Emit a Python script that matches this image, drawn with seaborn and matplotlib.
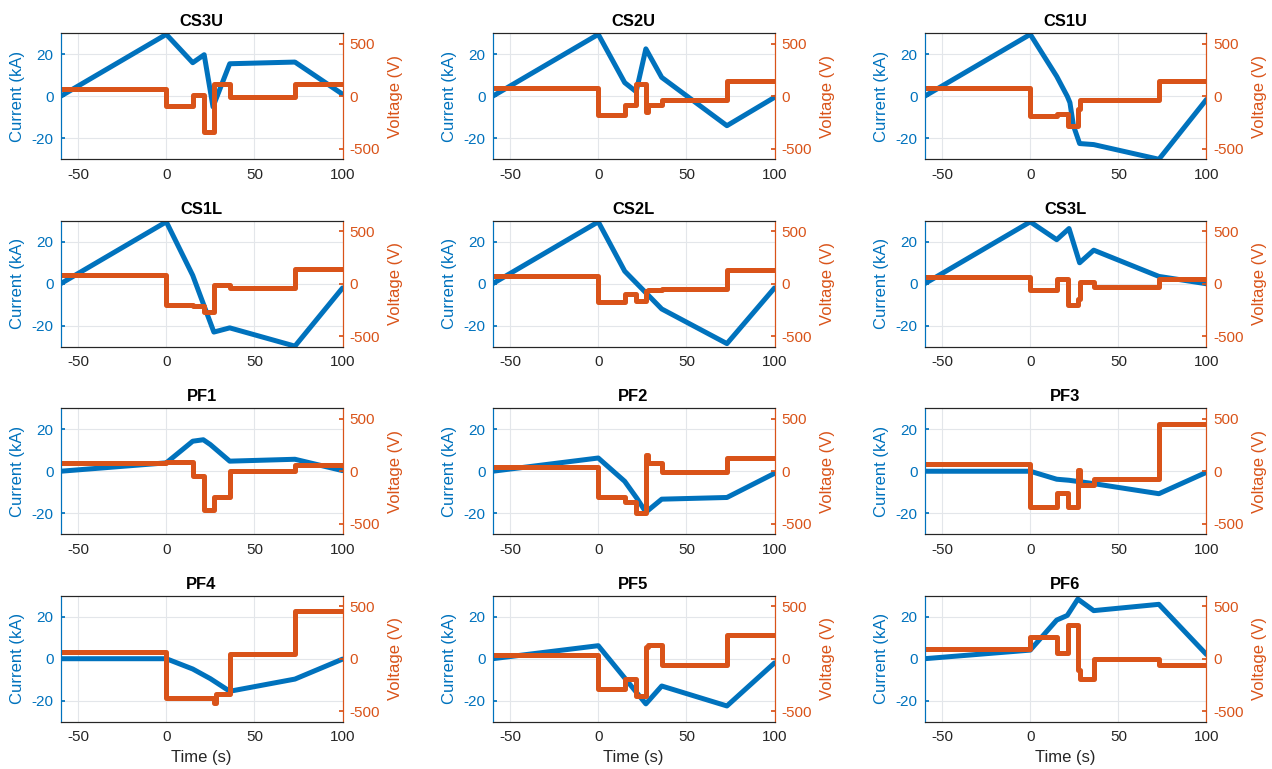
import matplotlib
matplotlib.use("Agg")
import matplotlib.pyplot as plt
import seaborn as sns

sns.set_theme(style="white")
plt.rcParams["font.family"] = ["Liberation Sans", "DejaVu Sans"]
plt.rcParams["axes.unicode_minus"] = False

BLUE = "#0072BD"
ORANGE = "#D95319"
DARK = "#262626"

coil_names = ["CS3U", "CS2U", "CS1U", "CS1L", "CS2L", "CS3L",
              "PF1", "PF2", "PF3", "PF4", "PF5", "PF6"]

# voltage is a step signal; one value per interval between these edges
v_edges = [-60, 0, 15, 21.5, 27, 28, 36, 73, 100]

# current waveforms (time s, current kA)
cs3u_t = [-60, 0, 15, 21.5, 26.5, 36, 73, 100]
cs3u_i = [0, 29.5, 16, 19.8, -5, 15.5, 16.3, 1]
cs2u_t = [-60, 0, 15, 21.5, 27, 36, 73, 100]
cs2u_i = [0, 29.5, 6.5, 2.2, 22.6, 9, -14, -0.5]
cs1u_t = [-60, 0, 15, 21, 22.5, 24.5, 28, 36, 73, 100]
cs1u_i = [0, 29.5, 9.5, 0, -3, -14, -22.5, -23, -30, -1.5]
cs1l_t = [-60, 0, 15, 27, 36, 73, 100]
cs1l_i = [0, 29.5, 4, -23, -21, -29.7, -2]
cs2l_t = [-60, 0, 15, 36, 73, 100]
cs2l_i = [0, 29.5, 6, -12, -28.5, -2]
cs3l_t = [-60, 0, 15, 22, 28, 36, 73, 100]
cs3l_i = [0, 29.5, 21, 26.3, 10, 16, 3.5, 0]
pf1_t = [-60, 0, 15, 21, 25, 36, 73, 100]
pf1_i = [0, 4, 14.3, 15, 12.7, 4.8, 5.7, 0.3]
pf2_t = [-60, 0, 15, 22, 27, 36, 73, 100]
pf2_i = [0, 6.3, -4.8, -13, -19.5, -13.3, -12.5, -1]
pf3_t = [-60, 0, 15, 22, 36, 73, 100]
pf3_i = [0, 0, -3.8, -4.3, -5.9, -10.7, -0.5]
pf4_t = [-60, 0, 15, 25, 36, 73, 100]
pf4_i = [0, 0, -4.9, -9.5, -15.5, -9.7, -0.2]
pf5_t = [-60, 0, 27, 36, 73, 100]
pf5_i = [0, 6.2, -21.5, -13, -22.5, -2]
pf6_t = [-60, 0, 15, 21, 27, 36, 73, 100]
pf6_i = [0, 4.1, 18.4, 20.6, 28.4, 22.9, 25.9, 2]

# voltage steps (V)
cs3u_v = [73, -95, 15, -340, 120, 120, -10, 120]
cs2u_v = [75, -175, -80, 120, -150, -85, -40, 148]
cs1u_v = [77, -185, -165, -285, -125, -32, -35, 148]
cs1l_v = [79, -200, -215, -265, -10, -10, -42, 145]
cs2l_v = [78, -172, -100, -165, -70, -63, -47, 127]
cs3l_v = [66, -57, 41, -202, -148, 16, -32, 41]
pf1_v = [82, 85, -45, -370, -245, -245, 0, 57]
pf2_v = [41, -243, -291, -402, 152, 79, -6, 127]
pf3_v = [66, -339, -209, -339, 10, -133, -76, 452]
pf4_v = [63, -378, -372, -372, -420, -340, 44, 450]
pf5_v = [35, -292, -190, -355, 110, 130, -63, 225]
pf6_v = [92, 209, 51, 320, -108, -197, 0, -60]

coils = [
    (cs3u_t, cs3u_i, cs3u_v), (cs2u_t, cs2u_i, cs2u_v), (cs1u_t, cs1u_i, cs1u_v),
    (cs1l_t, cs1l_i, cs1l_v), (cs2l_t, cs2l_i, cs2l_v), (cs3l_t, cs3l_i, cs3l_v),
    (pf1_t, pf1_i, pf1_v), (pf2_t, pf2_i, pf2_v), (pf3_t, pf3_i, pf3_v),
    (pf4_t, pf4_i, pf4_v), (pf5_t, pf5_i, pf5_v), (pf6_t, pf6_i, pf6_v),
]

fig, axes = plt.subplots(4, 3, figsize=(12.72, 7.69), dpi=100)
fig.subplots_adjust(left=0.0476, right=0.9485, bottom=0.0615, top=0.9567,
                    wspace=0.532, hspace=0.488)

for k, (ax, name, (t, cur, volt)) in enumerate(zip(axes.flat, coil_names, coils)):
    ax2 = ax.twinx()

    sns.lineplot(x=t, y=cur, ax=ax, color=BLUE, lw=3.6, sort=False)
    sns.lineplot(x=v_edges, y=volt + [volt[-1]], ax=ax2, color=ORANGE, lw=3.6,
                 drawstyle="steps-post", sort=False)

    ax.set_xlim(-60, 100)
    ax.set_ylim(-30, 30)
    ax2.set_ylim(-600, 600)
    ax.set_xticks([-50, 0, 50, 100])
    ax.set_yticks([-20, 0, 20])
    ax2.set_yticks([-500, 0, 500])
    ax.grid(True, color="#e3e6ea", lw=0.8)
    ax.set_axisbelow(True)

    ax.set_title(name, fontsize=11.9, fontweight="bold", color="black", pad=5)
    ax.set_ylabel("Current (kA)", color=BLUE, fontsize=12, labelpad=5)
    ax2.set_ylabel("Voltage (V)", color=ORANGE, fontsize=12, labelpad=6)
    ax.set_xlabel("Time (s)" if k >= 9 else "", color=DARK, fontsize=12, labelpad=4)

    ax.tick_params(axis="x", colors=DARK, direction="in", length=3, labelsize=11, pad=6)
    ax.tick_params(axis="y", colors=BLUE, direction="in", length=3, labelsize=11, pad=5)
    ax2.tick_params(axis="y", colors=ORANGE, direction="in", length=3, labelsize=11, pad=5)

    for a in (ax, ax2):
        a.spines["top"].set_color(DARK)
        a.spines["bottom"].set_color(DARK)
        a.spines["left"].set_color(BLUE)
        a.spines["right"].set_color(ORANGE)
        for s in a.spines.values():
            s.set_linewidth(0.8)

fig.savefig("out.png", dpi=100)
